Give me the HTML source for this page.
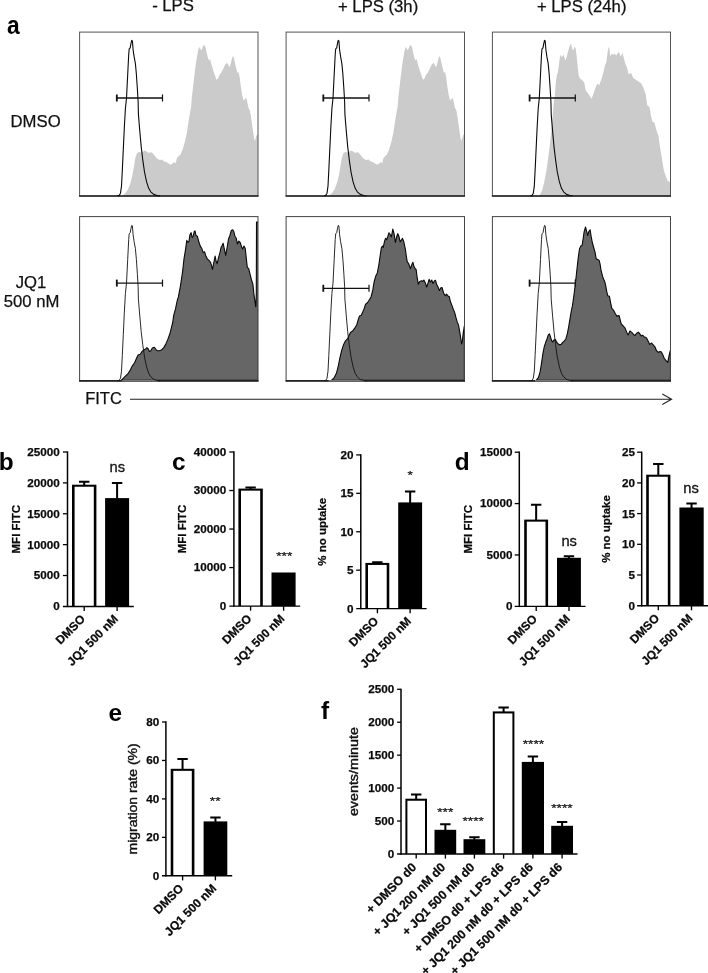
<!DOCTYPE html>
<html><head><meta charset="utf-8"><title>figure</title>
<style>
html,body{margin:0;padding:0;background:#fff;overflow:hidden}
svg{display:block}
text{font-family:"Liberation Sans",Arial,sans-serif;fill:#111}
.pl{font-weight:bold;font-size:24.4px;fill:#000}
.h{font-size:16.7px}
.t{font-weight:bold;fill:#0a0a0a;stroke:#0a0a0a;stroke-width:0.25px}
.n{font-weight:normal;fill:#111}
.s{stroke:#111;stroke-width:0.3px}
.s2{stroke:#111;stroke-width:0.45px}
.h{stroke:#111;stroke-width:0.25px}
</style></head><body>
<svg width="708" height="973" viewBox="0 0 708 973">
<rect width="708" height="973" fill="#fff"/>
<clipPath id="cp00"><rect x="79.6" y="32.1" width="178.4" height="163.9"/></clipPath>
<polygon points="122.6,195.8 125.4,193.2 128.2,189.0 130.4,183.3 132.2,176.3 133.9,166.4 135.3,157.9 137.0,153.0 138.8,152.0 141.0,152.5 143.1,151.6 144.9,150.6 146.6,151.6 148.7,153.0 150.1,152.3 152.0,152.5 153.7,154.4 155.8,157.2 157.9,159.3 160.0,160.0 162.1,159.6 164.3,161.4 166.4,162.1 168.5,163.6 170.6,164.7 172.7,163.6 174.2,162.1 175.6,163.6 177.0,157.9 178.4,156.5 180.5,154.4 182.6,149.4 184.7,142.4 186.9,132.5 189.0,118.4 191.1,107.1 191.8,97.8 193.9,79.4 196.0,62.5 197.9,51.2 199.1,46.9 200.3,48.4 201.2,50.5 202.4,47.7 203.5,45.3 204.6,45.5 205.5,46.9 206.6,52.6 208.0,58.2 209.2,60.4 210.1,59.0 211.1,63.2 212.5,68.1 214.4,73.8 216.5,79.7 217.9,78.7 219.3,75.2 221.4,72.4 223.6,68.1 225.3,64.6 227.1,62.8 228.5,65.3 229.5,67.4 230.6,63.9 231.8,59.0 232.9,56.1 234.0,58.2 235.1,63.9 236.6,69.5 237.4,73.1 238.5,71.7 239.8,78.0 240.8,86.5 242.2,95.0 243.6,100.6 244.7,99.2 246.2,97.8 247.3,102.0 248.4,107.7 249.8,110.3 250.8,115.4 251.9,123.6 253.1,131.9 254.2,139.0 254.9,141.1 256.0,137.0 256.8,135.0 258.0,134.0 258.0,195.8" fill="#cbcbcb" clip-path="url(#cp00)"/>
<rect x="79.6" y="32.1" width="178.4" height="163.9" fill="none" stroke="#555" stroke-width="1"/>
<line x1="79.1" y1="196.0" x2="258.5" y2="196.0" stroke="#222" stroke-width="1.7"/>
<polyline points="117.5,195.8 119.1,195.6 120.5,193.2 121.5,186.2 122.3,170.6 123.3,149.4 124.3,128.2 125.4,108.5 126.5,98.2 127.7,74.5 128.7,54.7 129.2,48.8 130.2,47.8 130.9,43.8 131.7,40.4 132.4,40.9 133.1,49.8 134.1,56.7 135.4,63.6 136.4,74.5 137.4,89.3 138.1,101.2 138.4,114.1 139.8,131.1 141.2,146.6 142.7,159.3 144.5,172.0 146.6,181.9 148.7,188.3 150.8,191.8 153.7,194.4 157.9,195.7 160.0,195.8" fill="none" stroke="#0a0a0a" stroke-width="1.1" stroke-linejoin="round"/>
<path d="M116.8 98.0H162.5" stroke="#111" stroke-width="1.3" fill="none"/>
<path d="M116.8 94.5v7" stroke="#111" stroke-width="1.8" fill="none"/>
<path d="M162.5 94.5v7" stroke="#111" stroke-width="1.2" fill="none"/>
<clipPath id="cp01"><rect x="286.1" y="32.1" width="178.4" height="163.9"/></clipPath>
<polygon points="329.1,195.8 331.9,193.2 334.7,189.0 336.9,183.3 338.7,176.3 340.4,166.4 341.8,157.9 343.5,153.0 345.3,152.0 347.5,152.5 349.6,151.6 351.4,150.6 353.1,151.6 355.2,153.0 356.6,152.3 358.5,152.5 360.2,154.4 362.3,157.2 364.4,159.3 366.5,160.0 368.6,159.6 370.8,161.4 372.9,162.1 375.0,163.6 377.1,164.7 379.2,163.6 380.7,162.1 382.1,163.6 383.5,157.9 384.9,156.5 387.0,154.4 389.1,149.4 391.2,142.4 393.4,132.5 395.5,118.4 397.6,107.1 398.3,97.8 400.4,79.4 402.5,62.5 404.4,51.2 405.6,46.9 406.8,48.4 407.7,50.5 408.9,47.7 410.0,45.3 411.1,45.5 412.0,46.9 413.1,52.6 414.5,58.2 415.7,60.4 416.6,59.0 417.6,63.2 419.0,68.1 420.9,73.8 423.0,79.7 424.4,78.7 425.8,75.2 427.9,72.4 430.1,68.1 431.8,64.6 433.6,62.8 435.0,65.3 436.0,67.4 437.1,63.9 438.3,59.0 439.4,56.1 440.5,58.2 441.6,63.9 443.1,69.5 443.9,73.1 445.0,71.7 446.3,78.0 447.3,86.5 448.7,95.0 450.1,100.6 451.2,99.2 452.7,97.8 453.8,102.0 454.9,107.7 456.3,110.3 457.3,115.4 458.4,123.6 459.6,131.9 460.7,139.0 461.4,141.1 462.5,137.0 463.3,135.0 464.5,134.0 464.5,195.8" fill="#cbcbcb" clip-path="url(#cp01)"/>
<rect x="286.1" y="32.1" width="178.4" height="163.9" fill="none" stroke="#555" stroke-width="1"/>
<line x1="285.6" y1="196.0" x2="465.0" y2="196.0" stroke="#222" stroke-width="1.7"/>
<polyline points="324.0,195.8 325.6,195.6 327.0,193.2 328.0,186.2 328.8,170.6 329.8,149.4 330.8,128.2 331.9,108.5 333.0,98.2 334.2,74.5 335.2,54.7 335.7,48.8 336.7,47.8 337.4,43.8 338.2,40.4 338.9,40.9 339.6,49.8 340.6,56.7 341.9,63.6 342.9,74.5 343.9,89.3 344.6,101.2 344.9,114.1 346.3,131.1 347.7,146.6 349.2,159.3 351.0,172.0 353.1,181.9 355.2,188.3 357.3,191.8 360.2,194.4 364.4,195.7 366.5,195.8" fill="none" stroke="#0a0a0a" stroke-width="1.1" stroke-linejoin="round"/>
<path d="M323.3 98.0H369.0" stroke="#111" stroke-width="1.3" fill="none"/>
<path d="M323.3 94.5v7" stroke="#111" stroke-width="1.8" fill="none"/>
<path d="M369.0 94.5v7" stroke="#111" stroke-width="1.2" fill="none"/>
<clipPath id="cp02"><rect x="492.4" y="32.1" width="178.1" height="163.9"/></clipPath>
<polygon points="539.5,195.8 542.1,190.4 544.2,182.2 546.2,171.9 547.7,161.7 549.3,149.3 550.8,136.0 552.1,123.6 553.1,110.3 554.0,100.0 554.7,97.8 555.7,83.7 556.8,75.2 558.0,71.7 559.0,63.9 559.9,56.8 560.8,54.7 561.8,57.5 562.8,55.4 563.9,55.1 565.3,60.4 566.7,56.8 568.1,51.2 569.5,46.2 571.0,43.4 572.1,48.4 573.1,50.5 574.5,46.9 575.5,47.7 576.6,55.4 577.7,66.7 578.7,75.2 580.1,78.7 582.3,80.1 584.4,83.0 585.8,90.7 587.9,92.9 590.0,96.4 591.4,98.9 593.3,94.3 595.0,89.3 597.1,83.7 599.2,85.1 601.3,79.4 603.4,72.4 604.9,65.3 606.3,62.5 607.4,54.0 608.4,46.7 609.5,49.8 610.3,56.5 611.9,53.5 613.3,54.7 614.7,53.5 616.2,55.4 617.6,53.5 619.1,51.7 620.4,56.2 621.3,55.5 622.4,52.6 623.9,58.5 625.3,63.5 626.8,67.0 628.8,74.6 631.1,72.8 633.2,78.1 635.8,79.8 638.5,81.6 641.1,83.3 643.7,88.6 645.8,94.7 647.2,105.2 649.5,106.9 651.0,115.7 652.4,121.8 654.5,122.7 656.3,129.7 658.6,136.6 660.3,148.9 662.1,159.4 663.8,169.9 666.1,176.9 667.8,181.2 669.6,182.1 670.5,180.3 670.5,195.8" fill="#cbcbcb" clip-path="url(#cp02)"/>
<rect x="492.4" y="32.1" width="178.1" height="163.9" fill="none" stroke="#555" stroke-width="1"/>
<line x1="491.9" y1="196.0" x2="671.0" y2="196.0" stroke="#222" stroke-width="1.7"/>
<polyline points="530.3,195.8 531.9,195.6 533.3,193.2 534.3,186.2 535.1,170.6 536.1,149.4 537.1,128.2 538.2,108.5 539.3,98.2 540.5,74.5 541.5,54.7 542.0,48.8 543.0,47.8 543.7,43.8 544.5,40.4 545.2,40.9 545.9,49.8 546.9,56.7 548.2,63.6 549.2,74.5 550.2,89.3 550.9,101.2 551.2,114.1 552.6,131.1 554.0,146.6 555.5,159.3 557.3,172.0 559.4,181.9 561.5,188.3 563.6,191.8 566.5,194.4 570.7,195.7 572.8,195.8" fill="none" stroke="#0a0a0a" stroke-width="1.1" stroke-linejoin="round"/>
<path d="M529.6 98.0H575.3" stroke="#111" stroke-width="1.3" fill="none"/>
<path d="M529.6 94.5v7" stroke="#111" stroke-width="1.8" fill="none"/>
<path d="M575.3 94.5v7" stroke="#111" stroke-width="1.2" fill="none"/>
<clipPath id="cp10"><rect x="79.6" y="216.6" width="178.4" height="164.2"/></clipPath>
<polygon points="121.2,380.4 124.7,376.9 128.2,373.3 130.4,369.8 132.5,365.6 134.6,362.7 136.4,358.5 138.1,355.0 140.3,354.3 142.1,351.4 143.8,350.0 145.2,349.3 146.9,347.6 148.3,349.0 149.4,351.4 150.8,350.7 152.3,347.9 154.4,347.2 155.8,349.3 157.2,350.7 159.3,350.7 161.4,350.0 163.6,347.9 165.7,344.4 167.8,339.4 169.9,333.8 171.3,328.1 172.7,322.5 173.7,315.4 175.6,308.4 177.4,299.9 178.4,296.9 180.5,285.6 182.6,271.5 184.0,258.8 185.4,250.3 186.8,240.4 188.0,242.5 189.0,241.1 189.9,234.8 191.1,232.7 192.2,237.6 193.2,236.2 194.2,231.7 195.0,230.8 196.0,235.5 197.4,236.2 198.8,241.8 200.3,246.1 201.7,248.2 203.1,252.4 204.5,251.7 205.9,256.0 207.3,258.8 208.7,260.2 210.6,262.3 211.6,265.8 212.5,269.4 213.7,263.0 215.1,256.0 216.2,261.6 217.2,263.7 218.6,257.4 220.0,252.4 221.0,247.5 222.1,245.4 223.1,243.2 224.3,248.9 225.7,255.3 227.1,247.5 228.5,239.0 229.9,235.5 231.3,230.5 232.7,229.8 233.7,231.2 234.9,236.2 236.3,238.3 237.4,244.0 238.8,241.1 240.2,242.5 241.6,246.8 242.6,248.9 244.0,246.1 245.2,248.2 246.2,257.4 247.3,267.3 248.7,268.7 250.1,274.3 251.5,280.0 252.9,284.2 253.9,294.1 254.9,301.2 255.8,306.8 256.3,294.1 256.5,222.1 258.4,222.1 258.4,380.4" fill="#666" stroke="#080808" stroke-width="1.1" stroke-linejoin="round" clip-path="url(#cp10)"/>
<rect x="79.6" y="216.6" width="178.4" height="164.2" fill="none" stroke="#444" stroke-width="1"/>
<line x1="79.1" y1="380.8" x2="258.5" y2="380.8" stroke="#222" stroke-width="1.7"/>
<line x1="122.1" y1="380.8" x2="158.0" y2="380.8" stroke="#bbb" stroke-width="0.8"/>
<polyline points="117.5,380.8 119.1,380.6 120.5,378.2 121.5,371.2 122.3,355.6 123.3,334.4 124.3,313.2 125.4,293.5 126.5,283.2 127.7,259.5 128.7,239.7 129.2,233.8 130.2,232.8 130.9,228.8 131.7,225.4 132.4,225.9 133.1,234.8 134.1,241.7 135.4,248.6 136.4,259.5 137.4,274.3 138.1,286.2 138.4,299.1 139.8,316.1 141.2,331.6 142.7,344.3 144.5,357.0 146.6,366.9 148.7,373.3 150.8,376.8 153.7,379.4 157.9,380.7 160.0,380.8" fill="none" stroke="#111" stroke-width="0.9" stroke-linejoin="round"/>
<path d="M116.8 283.1H162.5" stroke="#111" stroke-width="1.3" fill="none"/>
<path d="M116.8 279.6v7" stroke="#111" stroke-width="1.8" fill="none"/>
<path d="M162.5 279.6v7" stroke="#111" stroke-width="1.2" fill="none"/>
<clipPath id="cp11"><rect x="286.1" y="216.6" width="178.4" height="164.2"/></clipPath>
<polygon points="331.4,380.4 334.2,377.6 336.4,373.3 338.2,366.3 339.9,357.8 341.6,350.7 343.4,345.1 345.5,340.8 347.7,338.7 349.1,335.2 350.5,332.4 352.6,331.0 354.7,328.1 356.6,325.3 358.0,320.4 359.4,316.1 361.1,315.4 362.5,312.6 364.2,308.4 365.6,304.1 367.4,302.7 369.6,299.5 371.2,296.5 372.8,289.9 374.2,281.4 375.9,275.7 377.3,272.9 378.7,265.8 380.1,256.0 381.3,248.2 382.2,246.1 383.2,247.5 384.4,241.8 385.5,238.3 386.6,239.7 387.9,236.2 389.0,232.7 390.3,234.8 391.4,236.9 392.8,229.1 394.0,233.4 395.4,242.5 396.8,236.2 397.8,233.6 398.9,236.2 400.2,241.8 401.3,240.4 402.4,238.3 403.8,241.8 405.3,248.9 406.3,256.0 407.2,261.6 408.7,263.7 410.5,268.7 411.9,264.4 412.9,262.3 414.0,266.6 415.2,268.7 416.1,269.4 417.1,277.1 418.3,284.2 419.7,281.4 421.4,280.7 422.8,281.4 423.9,280.0 425.3,282.8 426.7,287.0 428.1,282.8 429.1,279.3 430.3,282.1 431.7,280.0 433.1,283.5 434.5,280.7 435.5,280.3 436.6,284.2 438.0,287.0 439.4,290.6 440.9,287.7 442.0,287.5 443.6,293.0 445.2,295.7 446.5,294.1 447.7,295.7 449.3,296.7 450.3,301.3 451.9,305.4 453.4,309.5 454.7,312.6 456.0,317.7 457.2,321.9 458.5,324.9 459.6,331.1 460.6,337.3 461.6,344.0 462.3,341.4 463.2,333.2 464.4,325.5 464.4,380.4" fill="#666" stroke="#080808" stroke-width="1.1" stroke-linejoin="round" clip-path="url(#cp11)"/>
<rect x="286.1" y="216.6" width="178.4" height="164.2" fill="none" stroke="#444" stroke-width="1"/>
<line x1="285.6" y1="380.8" x2="465.0" y2="380.8" stroke="#222" stroke-width="1.7"/>
<line x1="328.6" y1="380.8" x2="364.5" y2="380.8" stroke="#bbb" stroke-width="0.8"/>
<polyline points="324.0,380.8 325.6,380.6 327.0,378.2 328.0,371.2 328.8,355.6 329.8,334.4 330.8,313.2 331.9,293.5 333.0,283.2 334.2,259.5 335.2,239.7 335.7,233.8 336.7,232.8 337.4,228.8 338.2,225.4 338.9,225.9 339.6,234.8 340.6,241.7 341.9,248.6 342.9,259.5 343.9,274.3 344.6,286.2 344.9,299.1 346.3,316.1 347.7,331.6 349.2,344.3 351.0,357.0 353.1,366.9 355.2,373.3 357.3,376.8 360.2,379.4 364.4,380.7 366.5,380.8" fill="none" stroke="#111" stroke-width="0.9" stroke-linejoin="round"/>
<path d="M323.3 288.3H369.0" stroke="#111" stroke-width="1.3" fill="none"/>
<path d="M323.3 284.8v7" stroke="#111" stroke-width="1.8" fill="none"/>
<path d="M369.0 284.8v7" stroke="#111" stroke-width="1.2" fill="none"/>
<clipPath id="cp12"><rect x="492.4" y="216.6" width="178.1" height="164.2"/></clipPath>
<polygon points="536.2,380.4 538.4,377.6 540.1,371.9 541.5,363.4 542.9,353.6 544.3,346.5 545.7,342.3 547.1,338.7 548.2,335.2 549.4,333.8 550.4,336.6 551.4,340.1 552.5,342.0 553.9,340.1 555.3,339.4 556.4,341.6 557.9,343.7 559.5,344.8 561.2,344.4 562.7,342.3 564.5,340.8 565.9,338.7 567.3,333.8 568.7,326.7 570.1,318.2 571.3,311.0 572.5,305.4 573.9,295.5 575.3,284.2 576.7,271.5 578.1,258.8 579.5,248.9 580.7,246.1 582.1,245.4 583.1,239.0 584.1,231.9 585.5,227.0 586.6,231.2 587.7,235.5 588.7,231.9 590.1,229.8 591.1,236.2 592.3,242.5 593.7,247.5 595.1,252.4 596.2,258.8 597.6,259.5 599.0,260.2 600.0,263.7 601.0,270.1 602.1,274.3 603.3,278.6 604.7,281.4 605.7,285.6 606.7,291.3 607.8,295.8 609.4,296.2 610.4,301.6 611.8,308.4 613.5,310.2 615.5,314.0 616.9,316.1 619.1,315.6 620.1,319.7 621.2,323.9 623.3,326.0 625.1,328.1 626.8,332.4 628.2,334.9 629.9,331.0 631.8,332.4 633.6,334.5 635.0,335.5 636.7,333.1 638.4,332.1 639.8,333.8 641.2,335.9 642.7,335.2 644.5,337.3 645.9,337.3 647.3,339.4 648.7,342.3 649.7,344.4 651.6,343.0 653.4,345.1 655.1,347.2 656.5,350.7 658.2,352.4 660.0,351.4 661.4,352.1 662.9,355.0 664.3,358.5 666.1,360.6 667.8,362.3 668.9,356.4 669.9,352.1 670.5,350.0 670.5,380.4" fill="#666" stroke="#080808" stroke-width="1.1" stroke-linejoin="round" clip-path="url(#cp12)"/>
<rect x="492.4" y="216.6" width="178.1" height="164.2" fill="none" stroke="#444" stroke-width="1"/>
<line x1="491.9" y1="380.8" x2="671.0" y2="380.8" stroke="#222" stroke-width="1.7"/>
<line x1="534.9" y1="380.8" x2="570.8" y2="380.8" stroke="#bbb" stroke-width="0.8"/>
<polyline points="530.3,380.8 531.9,380.6 533.3,378.2 534.3,371.2 535.1,355.6 536.1,334.4 537.1,313.2 538.2,293.5 539.3,283.2 540.5,259.5 541.5,239.7 542.0,233.8 543.0,232.8 543.7,228.8 544.5,225.4 545.2,225.9 545.9,234.8 546.9,241.7 548.2,248.6 549.2,259.5 550.2,274.3 550.9,286.2 551.2,299.1 552.6,316.1 554.0,331.6 555.5,344.3 557.3,357.0 559.4,366.9 561.5,373.3 563.6,376.8 566.5,379.4 570.7,380.7 572.8,380.8" fill="none" stroke="#111" stroke-width="0.9" stroke-linejoin="round"/>
<path d="M529.6 283.1H575.3" stroke="#111" stroke-width="1.3" fill="none"/>
<path d="M529.6 279.6v7" stroke="#111" stroke-width="1.8" fill="none"/>
<path d="M575.3 279.6v7" stroke="#111" stroke-width="1.2" fill="none"/>
<text transform="translate(6.9 33.5) scale(0.91 1)" class="pl" style="font-size:25px">a</text>
<text x="173" y="11.4" class="h" text-anchor="middle">- LPS</text>
<text x="378.1" y="11.7" class="h" text-anchor="middle">+ LPS (3h)</text>
<text x="581.7" y="11.7" class="h" text-anchor="middle">+ LPS (24h)</text>
<text x="35.6" y="126.6" class="h" text-anchor="middle">DMSO</text>
<text x="31" y="287.5" class="h" text-anchor="middle">JQ1</text>
<text x="31.6" y="306.9" class="h" text-anchor="middle">500 nM</text>
<text x="85.2" y="403.9" class="h" style="font-size:16.5px">FITC</text>
<path d="M130 399.3H671.3M662.3 394l9.3 5.3l-9.3 5.3" stroke="#222" stroke-width="1.1" fill="none"/>
<text x="-1.2" y="469.8" class="pl">b</text>
<path d="M84.20 485.20V481.80M79.00 481.80H89.40" stroke="#000" stroke-width="2.0" fill="none"/>
<rect x="72.00" y="484.70" width="24.40" height="121.70" fill="#000"/>
<rect x="74.60" y="486.75" width="19.20" height="119.65" fill="#fff"/>
<path d="M117.10 498.60V482.90M111.90 482.90H122.30" stroke="#000" stroke-width="2.0" fill="none"/>
<rect x="105.10" y="498.10" width="24.00" height="108.30" fill="#000"/>
<path d="M67.50 451.35V607.12" stroke="#000" stroke-width="1.5" fill="none"/>
<path d="M62.90 606.40H133.80" stroke="#000" stroke-width="1.45" fill="none"/>
<text x="59.8" y="610.3" class="t" font-size="11.7" text-anchor="end">0</text>
<line x1="62.90" y1="575.52" x2="67.50" y2="575.52" stroke="#000" stroke-width="1.3"/>
<text x="59.8" y="579.4" class="t" font-size="11.7" text-anchor="end">5000</text>
<line x1="62.90" y1="544.64" x2="67.50" y2="544.64" stroke="#000" stroke-width="1.3"/>
<text x="59.8" y="548.5" class="t" font-size="11.7" text-anchor="end">10000</text>
<line x1="62.90" y1="513.76" x2="67.50" y2="513.76" stroke="#000" stroke-width="1.3"/>
<text x="59.8" y="517.6" class="t" font-size="11.7" text-anchor="end">15000</text>
<line x1="62.90" y1="482.88" x2="67.50" y2="482.88" stroke="#000" stroke-width="1.3"/>
<text x="59.8" y="486.7" class="t" font-size="11.7" text-anchor="end">20000</text>
<line x1="62.90" y1="452.00" x2="67.50" y2="452.00" stroke="#000" stroke-width="1.3"/>
<text x="59.8" y="455.9" class="t" font-size="11.7" text-anchor="end">25000</text>
<line x1="84.2" y1="606.4" x2="84.2" y2="611.0" stroke="#000" stroke-width="1.35"/>
<text transform="translate(85.9 619.7) rotate(-45)" class="t" font-size="11.934" text-anchor="end">DMSO</text>
<line x1="117.1" y1="606.4" x2="117.1" y2="611.0" stroke="#000" stroke-width="1.35"/>
<text transform="translate(118.8 619.7) rotate(-45)" class="t" font-size="11.934" text-anchor="end">JQ1 500 nM</text>
<text transform="translate(19.5 529.2) rotate(-90)" class="t" font-size="11.5" text-anchor="middle">MFI FITC</text>
<text x="117.3" y="472.0" class="n s" font-size="14.7" text-anchor="middle">ns</text>
<text x="172" y="470.2" class="pl">c</text>
<path d="M250.60 489.10V487.60M245.40 487.60H255.80" stroke="#000" stroke-width="2.0" fill="none"/>
<rect x="238.40" y="488.60" width="24.40" height="117.50" fill="#000"/>
<rect x="241.00" y="490.65" width="19.20" height="115.45" fill="#fff"/>
<rect x="271.50" y="572.50" width="24.10" height="33.60" fill="#000"/>
<path d="M233.90 451.35V606.83" stroke="#000" stroke-width="1.5" fill="none"/>
<path d="M229.30 606.10H300.20" stroke="#000" stroke-width="1.45" fill="none"/>
<text x="226.2" y="610.0" class="t" font-size="11.7" text-anchor="end">0</text>
<line x1="229.30" y1="567.58" x2="233.90" y2="567.58" stroke="#000" stroke-width="1.3"/>
<text x="226.2" y="571.4" class="t" font-size="11.7" text-anchor="end">10000</text>
<line x1="229.30" y1="529.05" x2="233.90" y2="529.05" stroke="#000" stroke-width="1.3"/>
<text x="226.2" y="532.9" class="t" font-size="11.7" text-anchor="end">20000</text>
<line x1="229.30" y1="490.52" x2="233.90" y2="490.52" stroke="#000" stroke-width="1.3"/>
<text x="226.2" y="494.4" class="t" font-size="11.7" text-anchor="end">30000</text>
<line x1="229.30" y1="452.00" x2="233.90" y2="452.00" stroke="#000" stroke-width="1.3"/>
<text x="226.2" y="455.9" class="t" font-size="11.7" text-anchor="end">40000</text>
<line x1="250.6" y1="606.1" x2="250.6" y2="610.7" stroke="#000" stroke-width="1.35"/>
<text transform="translate(252.3 619.4) rotate(-45)" class="t" font-size="11.934" text-anchor="end">DMSO</text>
<line x1="283.6" y1="606.1" x2="283.6" y2="610.7" stroke="#000" stroke-width="1.35"/>
<text transform="translate(285.2 619.4) rotate(-45)" class="t" font-size="11.934" text-anchor="end">JQ1 500 nM</text>
<text transform="translate(186.4 529.0) rotate(-90)" class="t" font-size="11.5" text-anchor="middle">MFI FITC</text>
<text transform="translate(284.3 559.8) scale(1 0.8)" class="n s" font-size="13.8" text-anchor="middle">***</text>
<path d="M377.35 563.40V562.30M372.15 562.30H382.55" stroke="#000" stroke-width="2.0" fill="none"/>
<rect x="365.40" y="562.90" width="23.90" height="45.70" fill="#000"/>
<rect x="368.00" y="564.95" width="18.70" height="43.65" fill="#fff"/>
<path d="M410.15 502.90V491.60M404.95 491.60H415.35" stroke="#000" stroke-width="2.0" fill="none"/>
<rect x="398.20" y="502.40" width="23.90" height="106.20" fill="#000"/>
<path d="M360.80 454.25V609.33" stroke="#000" stroke-width="1.5" fill="none"/>
<path d="M356.20 608.60H426.60" stroke="#000" stroke-width="1.45" fill="none"/>
<text x="353.5" y="612.5" class="t" font-size="11.7" text-anchor="end">0</text>
<line x1="356.20" y1="570.17" x2="360.80" y2="570.17" stroke="#000" stroke-width="1.3"/>
<text x="353.5" y="574.0" class="t" font-size="11.7" text-anchor="end">5</text>
<line x1="356.20" y1="531.75" x2="360.80" y2="531.75" stroke="#000" stroke-width="1.3"/>
<text x="353.5" y="535.6" class="t" font-size="11.7" text-anchor="end">10</text>
<line x1="356.20" y1="493.32" x2="360.80" y2="493.32" stroke="#000" stroke-width="1.3"/>
<text x="353.5" y="497.2" class="t" font-size="11.7" text-anchor="end">15</text>
<line x1="356.20" y1="454.90" x2="360.80" y2="454.90" stroke="#000" stroke-width="1.3"/>
<text x="353.5" y="458.8" class="t" font-size="11.7" text-anchor="end">20</text>
<line x1="377.4" y1="608.6" x2="377.4" y2="613.2" stroke="#000" stroke-width="1.35"/>
<text transform="translate(379.1 621.9) rotate(-45)" class="t" font-size="11.934" text-anchor="end">DMSO</text>
<line x1="410.1" y1="608.6" x2="410.1" y2="613.2" stroke="#000" stroke-width="1.35"/>
<text transform="translate(411.8 621.9) rotate(-45)" class="t" font-size="11.934" text-anchor="end">JQ1 500 nM</text>
<text transform="translate(325.7 531.8) rotate(-90)" class="t" font-size="11.5" text-anchor="middle">% no uptake</text>
<text transform="translate(410.1 478.9) scale(1 0.8)" class="n s" font-size="13.8" text-anchor="middle">*</text>
<text x="454.8" y="469.9" class="pl">d</text>
<path d="M536.15 520.10V504.70M530.95 504.70H541.35" stroke="#000" stroke-width="2.0" fill="none"/>
<rect x="524.20" y="519.60" width="23.90" height="86.75" fill="#000"/>
<rect x="526.80" y="521.65" width="18.70" height="84.70" fill="#fff"/>
<path d="M568.95 558.30V556.30M563.75 556.30H574.15" stroke="#000" stroke-width="2.0" fill="none"/>
<rect x="557.00" y="557.80" width="23.90" height="48.55" fill="#000"/>
<path d="M519.30 451.55V607.08" stroke="#000" stroke-width="1.5" fill="none"/>
<path d="M514.70 606.35H585.50" stroke="#000" stroke-width="1.45" fill="none"/>
<text x="512.4" y="610.2" class="t" font-size="11.7" text-anchor="end">0</text>
<line x1="514.70" y1="554.97" x2="519.30" y2="554.97" stroke="#000" stroke-width="1.3"/>
<text x="512.4" y="558.8" class="t" font-size="11.7" text-anchor="end">5000</text>
<line x1="514.70" y1="503.58" x2="519.30" y2="503.58" stroke="#000" stroke-width="1.3"/>
<text x="512.4" y="507.4" class="t" font-size="11.7" text-anchor="end">10000</text>
<line x1="514.70" y1="452.20" x2="519.30" y2="452.20" stroke="#000" stroke-width="1.3"/>
<text x="512.4" y="456.1" class="t" font-size="11.7" text-anchor="end">15000</text>
<line x1="536.2" y1="606.4" x2="536.2" y2="611.0" stroke="#000" stroke-width="1.35"/>
<text transform="translate(537.9 619.6) rotate(-45)" class="t" font-size="11.934" text-anchor="end">DMSO</text>
<line x1="569.0" y1="606.4" x2="569.0" y2="611.0" stroke="#000" stroke-width="1.35"/>
<text transform="translate(570.7 619.6) rotate(-45)" class="t" font-size="11.934" text-anchor="end">JQ1 500 nM</text>
<text transform="translate(472.0 529.3) rotate(-90)" class="t" font-size="11.5" text-anchor="middle">MFI FITC</text>
<text x="569.2" y="546.0" class="n s" font-size="14.7" text-anchor="middle">ns</text>
<path d="M658.30 475.20V463.90M653.10 463.90H663.50" stroke="#000" stroke-width="2.0" fill="none"/>
<rect x="646.20" y="474.70" width="24.20" height="131.00" fill="#000"/>
<rect x="648.80" y="476.75" width="19.00" height="128.95" fill="#fff"/>
<path d="M691.55 508.00V503.40M686.35 503.40H696.75" stroke="#000" stroke-width="2.0" fill="none"/>
<rect x="679.40" y="507.50" width="24.30" height="98.20" fill="#000"/>
<path d="M641.70 451.55V606.43" stroke="#000" stroke-width="1.5" fill="none"/>
<path d="M637.10 605.70H708.00" stroke="#000" stroke-width="1.45" fill="none"/>
<text x="635.1" y="609.6" class="t" font-size="11.7" text-anchor="end">0</text>
<line x1="637.10" y1="575.00" x2="641.70" y2="575.00" stroke="#000" stroke-width="1.3"/>
<text x="635.1" y="578.9" class="t" font-size="11.7" text-anchor="end">5</text>
<line x1="637.10" y1="544.30" x2="641.70" y2="544.30" stroke="#000" stroke-width="1.3"/>
<text x="635.1" y="548.2" class="t" font-size="11.7" text-anchor="end">10</text>
<line x1="637.10" y1="513.60" x2="641.70" y2="513.60" stroke="#000" stroke-width="1.3"/>
<text x="635.1" y="517.5" class="t" font-size="11.7" text-anchor="end">15</text>
<line x1="637.10" y1="482.90" x2="641.70" y2="482.90" stroke="#000" stroke-width="1.3"/>
<text x="635.1" y="486.8" class="t" font-size="11.7" text-anchor="end">20</text>
<line x1="637.10" y1="452.20" x2="641.70" y2="452.20" stroke="#000" stroke-width="1.3"/>
<text x="635.1" y="456.1" class="t" font-size="11.7" text-anchor="end">25</text>
<line x1="658.3" y1="605.7" x2="658.3" y2="610.3" stroke="#000" stroke-width="1.35"/>
<text transform="translate(660.0 619.0) rotate(-45)" class="t" font-size="11.934" text-anchor="end">DMSO</text>
<line x1="691.5" y1="605.7" x2="691.5" y2="610.3" stroke="#000" stroke-width="1.35"/>
<text transform="translate(693.2 619.0) rotate(-45)" class="t" font-size="11.934" text-anchor="end">JQ1 500 nM</text>
<text transform="translate(609.7 529.0) rotate(-90)" class="t" font-size="11.5" text-anchor="middle">% no uptake</text>
<text x="691.0" y="492.6" class="n s" font-size="14.7" text-anchor="middle">ns</text>
<text x="108.6" y="720.8" class="pl">e</text>
<path d="M182.55 769.30V759.00M177.35 759.00H187.75" stroke="#000" stroke-width="2.0" fill="none"/>
<rect x="170.70" y="768.80" width="23.70" height="107.00" fill="#000"/>
<rect x="173.30" y="770.85" width="18.50" height="104.95" fill="#fff"/>
<path d="M215.45 821.90V817.60M210.25 817.60H220.65" stroke="#000" stroke-width="2.0" fill="none"/>
<rect x="203.60" y="821.40" width="23.70" height="54.40" fill="#000"/>
<path d="M165.90 721.35V876.52" stroke="#000" stroke-width="1.5" fill="none"/>
<path d="M162.00 875.80H232.20" stroke="#000" stroke-width="1.45" fill="none"/>
<text x="159.3" y="879.7" class="t" font-size="11.7" text-anchor="end">0</text>
<line x1="162.00" y1="837.35" x2="165.90" y2="837.35" stroke="#000" stroke-width="1.3"/>
<text x="159.3" y="841.2" class="t" font-size="11.7" text-anchor="end">20</text>
<line x1="162.00" y1="798.90" x2="165.90" y2="798.90" stroke="#000" stroke-width="1.3"/>
<text x="159.3" y="802.8" class="t" font-size="11.7" text-anchor="end">40</text>
<line x1="162.00" y1="760.45" x2="165.90" y2="760.45" stroke="#000" stroke-width="1.3"/>
<text x="159.3" y="764.3" class="t" font-size="11.7" text-anchor="end">60</text>
<line x1="162.00" y1="722.00" x2="165.90" y2="722.00" stroke="#000" stroke-width="1.3"/>
<text x="159.3" y="725.9" class="t" font-size="11.7" text-anchor="end">80</text>
<line x1="182.6" y1="875.8" x2="182.6" y2="880.4" stroke="#000" stroke-width="1.35"/>
<text transform="translate(184.2 889.1) rotate(-45)" class="t" font-size="12.1" text-anchor="end">DMSO</text>
<line x1="215.4" y1="875.8" x2="215.4" y2="880.4" stroke="#000" stroke-width="1.35"/>
<text transform="translate(217.1 889.1) rotate(-45)" class="t" font-size="12.1" text-anchor="end">JQ1 500 nM</text>
<text transform="translate(137.0 798.9) rotate(-90) scale(1 0.9)" class="n s2" font-size="14.0" text-anchor="middle">migration rate (%)</text>
<text transform="translate(215.2 804.8) scale(1 0.8)" class="n s" font-size="13.8" text-anchor="middle">**</text>
<text x="320.9" y="719" class="pl">f</text>
<path d="M416.20 799.20V794.60M411.00 794.60H421.40" stroke="#000" stroke-width="2.0" fill="none"/>
<rect x="405.40" y="798.70" width="21.60" height="55.25" fill="#000"/>
<rect x="407.40" y="800.75" width="17.60" height="53.20" fill="#fff"/>
<path d="M445.35 830.30V824.20M440.15 824.20H450.55" stroke="#000" stroke-width="2.0" fill="none"/>
<rect x="434.50" y="829.80" width="21.70" height="24.15" fill="#000"/>
<path d="M474.40 839.70V837.30M469.20 837.30H479.60" stroke="#000" stroke-width="2.0" fill="none"/>
<rect x="463.50" y="839.20" width="21.80" height="14.75" fill="#000"/>
<path d="M503.60 711.90V707.40M498.40 707.40H508.80" stroke="#000" stroke-width="2.0" fill="none"/>
<rect x="492.80" y="711.40" width="21.60" height="142.55" fill="#000"/>
<rect x="494.80" y="713.45" width="17.60" height="140.50" fill="#fff"/>
<path d="M532.90 762.40V756.60M527.70 756.60H538.10" stroke="#000" stroke-width="2.0" fill="none"/>
<rect x="521.80" y="761.90" width="22.20" height="92.05" fill="#000"/>
<path d="M562.10 826.30V822.00M556.90 822.00H567.30" stroke="#000" stroke-width="2.0" fill="none"/>
<rect x="551.20" y="825.80" width="21.80" height="28.15" fill="#000"/>
<path d="M401.00 688.65V854.68" stroke="#000" stroke-width="1.5" fill="none"/>
<path d="M397.10 853.95H577.50" stroke="#000" stroke-width="1.45" fill="none"/>
<text x="394.3" y="857.8" class="t" font-size="11.7" text-anchor="end">0</text>
<line x1="397.10" y1="821.02" x2="401.00" y2="821.02" stroke="#000" stroke-width="1.3"/>
<text x="394.3" y="824.9" class="t" font-size="11.7" text-anchor="end">500</text>
<line x1="397.10" y1="788.09" x2="401.00" y2="788.09" stroke="#000" stroke-width="1.3"/>
<text x="394.3" y="792.0" class="t" font-size="11.7" text-anchor="end">1000</text>
<line x1="397.10" y1="755.16" x2="401.00" y2="755.16" stroke="#000" stroke-width="1.3"/>
<text x="394.3" y="759.0" class="t" font-size="11.7" text-anchor="end">1500</text>
<line x1="397.10" y1="722.23" x2="401.00" y2="722.23" stroke="#000" stroke-width="1.3"/>
<text x="394.3" y="726.1" class="t" font-size="11.7" text-anchor="end">2000</text>
<line x1="397.10" y1="689.30" x2="401.00" y2="689.30" stroke="#000" stroke-width="1.3"/>
<text x="394.3" y="693.2" class="t" font-size="11.7" text-anchor="end">2500</text>
<line x1="416.2" y1="854.0" x2="416.2" y2="858.6" stroke="#000" stroke-width="1.35"/>
<text transform="translate(417.1 868.0) rotate(-45)" class="t" font-size="12.3" text-anchor="end">+ DMSO d0</text>
<line x1="445.4" y1="854.0" x2="445.4" y2="858.6" stroke="#000" stroke-width="1.35"/>
<text transform="translate(446.2 868.0) rotate(-45)" class="t" font-size="12.3" text-anchor="end">+ JQ1 200 nM d0</text>
<line x1="474.4" y1="854.0" x2="474.4" y2="858.6" stroke="#000" stroke-width="1.35"/>
<text transform="translate(475.3 868.0) rotate(-45)" class="t" font-size="12.3" text-anchor="end">+ JQ1 500 nM d0</text>
<line x1="503.6" y1="854.0" x2="503.6" y2="858.6" stroke="#000" stroke-width="1.35"/>
<text transform="translate(504.5 868.0) rotate(-45)" class="t" font-size="12.3" text-anchor="end">+ DMSO d0 + LPS d6</text>
<line x1="532.9" y1="854.0" x2="532.9" y2="858.6" stroke="#000" stroke-width="1.35"/>
<text transform="translate(533.8 868.0) rotate(-45)" class="t" font-size="12.3" text-anchor="end">+ JQ1 200 nM d0 + LPS d6</text>
<line x1="562.1" y1="854.0" x2="562.1" y2="858.6" stroke="#000" stroke-width="1.35"/>
<text transform="translate(563.0 868.0) rotate(-45)" class="t" font-size="12.3" text-anchor="end">+ JQ1 500 nM d0 + LPS d6</text>
<text transform="translate(358.0 771.6) rotate(-90) scale(1 0.95)" class="n s2" font-size="14.3" text-anchor="middle">events/minute</text>
<text transform="translate(445.2 815.8) scale(1 0.8)" class="n s" font-size="13.8" text-anchor="middle">***</text>
<text transform="translate(473.2 824.9) scale(1 0.8)" class="n s" font-size="13.8" text-anchor="middle">****</text>
<text transform="translate(533.4 748.2) scale(1 0.8)" class="n s" font-size="13.8" text-anchor="middle">****</text>
<text transform="translate(561.9 812.1) scale(1 0.8)" class="n s" font-size="13.8" text-anchor="middle">****</text>
</svg>
</body></html>
